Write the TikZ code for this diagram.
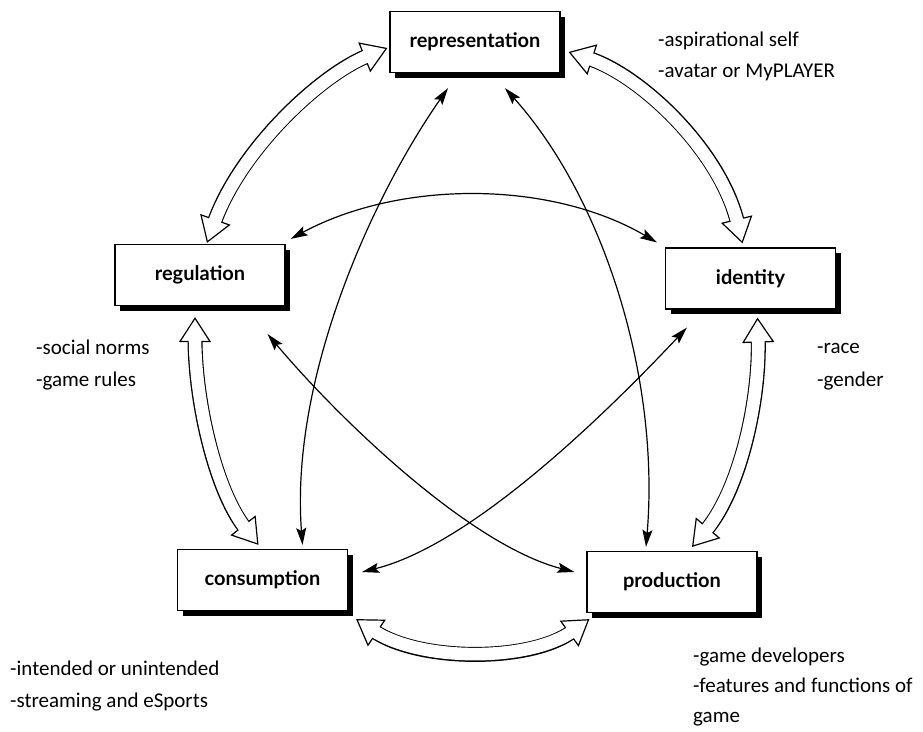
\documentclass[tikz,border=0pt]{standalone}
\usepackage{fontspec}
\setmainfont{Carlito}
\newfontfamily\boxfont{Lato}
\usetikzlibrary{arrows.meta,shadows}

\tikzset{
  mybox/.style={draw, line width=1.2pt, fill=white, minimum width=170pt, minimum height=61pt,
    inner sep=0pt, font=\boxfont\bfseries\fontsize{20}{24}\selectfont,
    drop shadow={shadow xshift=5pt, shadow yshift=-5pt, fill=black, opacity=1}},
  annot/.style={anchor=base west, inner sep=0pt, font=\fontsize{21}{25}\selectfont},
  link/.style={line width=1.2pt, {Stealth[length=17pt,width=10pt,inset=3pt]}-{Stealth[length=17pt,width=10pt,inset=3pt]}},
}

\newcommand\hollowarrow[1]{%
  \draw[line width=15pt, shorten <=22pt, shorten >=22pt] #1;
  \draw[line width=1.2pt, {Triangle[open,length=25pt,width=32pt,fill=white]}-{Triangle[open,length=25pt,width=32pt,fill=white]}] #1;
  \draw[line width=12.6pt, white, shorten <=20pt, shorten >=20pt] #1;
}

\begin{document}
\begin{tikzpicture}[x=1pt,y=-1pt]
\fill[white] (0,0) rectangle (923,731);
\useasboundingbox (0,0) rectangle (923,731);

% boxes
\node[mybox] (rep)  at (475,42)    {representation};
\node[mybox] (reg)  at (200,275)   {regulation};
\node[mybox] (id)   at (750.5,278.5) {identity};
\node[mybox] (cons) at (262.5,580) {consumption};
\node[mybox] (prod) at (672,582)   {production};

% hollow double arrows around the circle
\hollowarrow{([xshift=-2pt,yshift=-6pt]rep.west) .. controls (320,75) and (240,150) .. ([xshift=7pt,yshift=1pt]reg.north)}
\hollowarrow{([xshift=8pt,yshift=-10pt]rep.east) .. controls (640,75) and (720,150) .. ([xshift=-8pt,yshift=4pt]id.north)}
\hollowarrow{([xshift=-5pt,yshift=-11pt]reg.south) .. controls (195,400) and (215,490) .. ([xshift=-4pt,yshift=4pt]cons.north)}
\hollowarrow{([xshift=7pt,yshift=-8pt]id.south) .. controls (760,400) and (740,490) .. ([xshift=20pt,yshift=4pt]prod.north)}
\hollowarrow{([xshift=8pt,yshift=-8pt]cons.south east) .. controls (420,662) and (530,662) .. ([xshift=3pt,yshift=-6pt]prod.south west)}

% thin double-headed arrows
\draw[link] ([xshift=-27pt,yshift=-15pt]rep.south) .. controls (370,200) and (290,380) .. ([xshift=40pt,yshift=4pt]cons.north);
\draw[link] ([xshift=30pt,yshift=-15pt]rep.south) .. controls (605,200) and (660,380) .. ([xshift=-26pt,yshift=4pt]prod.north);
\draw[link] ([xshift=5pt,yshift=5pt]reg.north east) .. controls (400,180) and (550,180) .. ([xshift=-8pt,yshift=5pt]id.north west);
\draw[link] ([xshift=-18pt,yshift=-28pt]reg.south east) .. controls (340,420) and (470,545) .. ([xshift=-12pt,yshift=10pt]prod.west);
\draw[link] ([xshift=22pt,yshift=-18pt]id.south west) .. controls (600,420) and (470,545) .. ([xshift=14pt,yshift=8pt]cons.east);

% annotations
\node[annot] (a1) at (658,46)  {-aspirational self};
\node[annot] (a2) at (658,77)  {-avatar or MyPLAYER};
\node[annot] (b1) at (36,354)  {-social norms};
\node[annot] (b2) at (36,386)  {-game rules};
\node[annot] (c1) at (817,353) {-race};
\node[annot] (c2) at (817,386) {-gender};
\node[annot] (d1) at (10,675)  {-intended or unintended};
\node[annot] (d2) at (10,707)  {-streaming and eSports};
\node[annot] (e1) at (693,662) {-game developers};
\node[annot] (e2) at (693,692) {-features and functions of};
\node[annot] (e3) at (693,722) {game};
\end{tikzpicture}
\end{document}
